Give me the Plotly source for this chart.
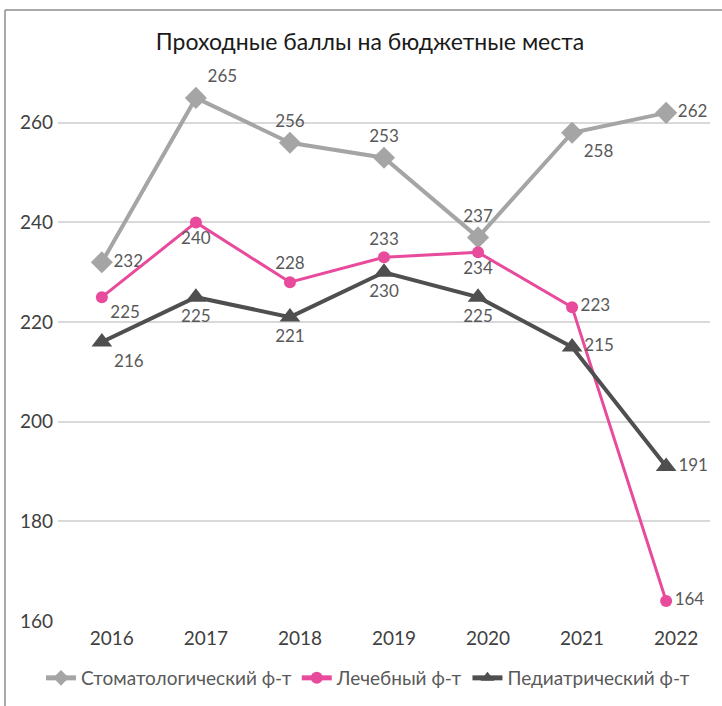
import plotly.graph_objects as go

years = ["2016", "2017", "2018", "2019", "2020", "2021", "2022"]
stomat = [232, 265, 256, 253, 237, 258, 262]
lech = [225, 240, 228, 233, 234, 223, 164]
pediatr = [216, 225, 221, 230, 225, 215, 191]
y_ticks = [160, 180, 200, 220, 240, 260]

FONT = "Lato, Open Sans, sans-serif"
label_font = dict(family=FONT, size=17, color="#595959")

fig = go.Figure()
fig.add_trace(go.Scatter(
    x=years, y=stomat, name="Стоматологический ф-т", mode="lines+markers+text",
    line=dict(color="#A5A5A5", width=4),
    marker=dict(symbol="diamond", size=17, color="#A5A5A5"),
    text=[str(v) for v in stomat],
    textposition=["middle right", "top right", "top center", "top center", "top center", "bottom right", "middle right"],
    textfont=label_font, cliponaxis=False,
))
fig.add_trace(go.Scatter(
    x=years, y=lech, name="Лечебный ф-т", mode="lines+markers+text",
    line=dict(color="#E84A9C", width=3),
    marker=dict(symbol="circle", size=12, color="#E84A9C"),
    text=[str(v) for v in lech],
    textposition=["bottom right", "bottom center", "top center", "top center", "bottom center", "middle right", "middle right"],
    textfont=label_font, cliponaxis=False,
))
fig.add_trace(go.Scatter(
    x=years, y=pediatr, name="Педиатрический ф-т", mode="lines+markers+text",
    line=dict(color="#4F4F4F", width=4),
    marker=dict(symbol="triangle-up", size=18, color="#4F4F4F"),
    text=[str(v) for v in pediatr],
    textposition=["bottom right", "bottom center", "bottom center", "bottom center", "bottom center", "middle right", "middle right"],
    textfont=label_font, cliponaxis=False,
))

L, R, T, B = 58, 12, 73, 85
W, H = 722, 706
pw, ph = W - L - R, H - T - B

fig.update_layout(
    width=W, height=H,
    margin=dict(l=L, r=R, t=T, b=B, autoexpand=False),
    paper_bgcolor="white", plot_bgcolor="white",
    font=dict(family=FONT, color="#404040"),
    title=dict(text="Проходные баллы на бюджетные места", x=370 / W, xanchor="center",
               y=1 - 42 / H, yanchor="middle",
               font=dict(size=23, color="#1a1a1a")),
    xaxis=dict(type="category", showgrid=False, showline=False, zeroline=False,
               ticks="", tickfont=dict(size=19, color="#404040"),
               ticklabelshift=10, ticklabelstandoff=4),
    yaxis=dict(range=[160, 270], tickvals=y_ticks, showgrid=True, gridcolor="#D9D9D9",
               gridwidth=1.5, zeroline=False, showline=False, ticks="",
               tickfont=dict(size=19, color="#404040"), ticklabelstandoff=4),
    showlegend=True,
    legend=dict(orientation="h", x=368 / W, xref="container", xanchor="center",
                y=1 - 678 / H, yref="container", yanchor="middle",
                font=dict(size=19, color="#595959"), itemsizing="constant",
                itemwidth=30, tracegroupgap=0),
)

# chart frame (partially cut off at right and bottom)
fy = 1 + (T - 10) / ph
fx = (5 - L) / pw
fig.add_shape(type="line", xref="paper", yref="paper",
              x0=fx, x1=(W + 5 - L) / pw, y0=fy, y1=fy,
              line=dict(color="#8c8c8c", width=1.5))
fig.add_shape(type="line", xref="paper", yref="paper",
              x0=fx, x1=fx, y0=fy, y1=-(B + 10) / ph,
              line=dict(color="#8c8c8c", width=1.5))

fig.write_html("out.html", config={"displayModeBar": False},
               post_script="document.body.style.margin='0px';")
